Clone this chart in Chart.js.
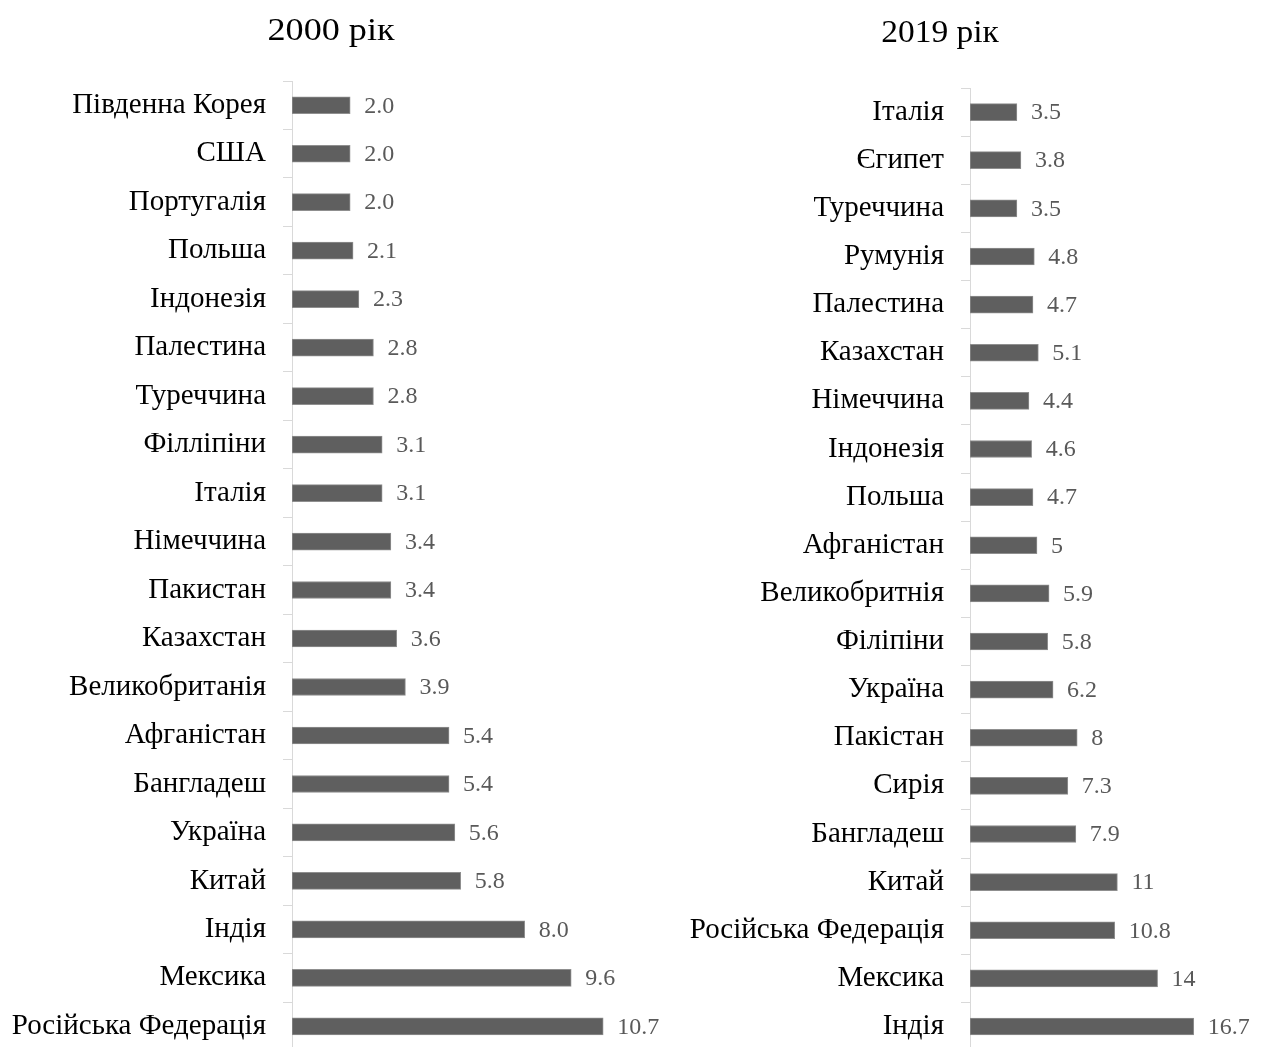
<!DOCTYPE html>
<html>
<head>
<meta charset="utf-8">
<script src="https://cdn.jsdelivr.net/npm/chart.js@4.4.1/dist/chart.umd.min.js"></script>
<style>
  html, body { margin: 0; padding: 0; background: #fff; overflow: hidden; width: 1263px; height: 1047px; }
  .title { position: absolute; font-family: "Liberation Serif", "Times New Roman", serif; color: #000; white-space: nowrap; line-height: 1; transform-origin: center center; }
  canvas { position: absolute; top: 0; }
</style>
</head>
<body>
<canvas id="c1" width="700" height="1085" style="left:0px;"></canvas>
<canvas id="c2" width="622" height="1085" style="left:641px;"></canvas>
<div class="title" id="t1" style="left:331px; top:13px; font-size:32px; transform: translateX(-50%) scaleX(1.13);">2000 рік</div>
<div class="title" id="t2" style="left:940px; top:16px; font-size:31px; transform: translateX(-50%) scaleX(1.08);">2019 рік</div>
<script>
const categories2000 = ["Південна Корея","США","Португалія","Польша","Індонезія","Палестина","Туреччина","Філліпіни","Італія","Німеччина","Пакистан","Казахстан","Великобританія","Афганістан","Бангладеш","Україна","Китай","Індія","Мексика","Російська Федерація"];
const values2000 = [2.0,2.0,2.0,2.1,2.3,2.8,2.8,3.1,3.1,3.4,3.4,3.6,3.9,5.4,5.4,5.6,5.8,8.0,9.6,10.7];

const categories2019 = ["Італія","Єгипет","Туреччина","Румунія","Палестина","Казахстан","Німеччина","Індонезія","Польша","Афганістан","Великобритнія","Філіпіни","Україна","Пакістан","Сирія","Бангладеш","Китай","Російська Федерація","Мексика","Індія"];
const values2019 = [3.5,3.8,3.5,4.8,4.7,5.1,4.4,4.6,4.7,5,5.9,5.8,6.2,8,7.3,7.9,11,10.8,14,16.7];

const FONT = '"Liberation Serif", "Times New Roman", serif';

function valueLabelPlugin(fmt, gap) {
  return {
    id: 'valueLabels',
    afterDatasetsDraw(chart) {
      const ctx = chart.ctx;
      const meta = chart.getDatasetMeta(0);
      const data = chart.data.datasets[0].data;
      ctx.save();
      ctx.font = '24px ' + FONT;
      ctx.fillStyle = '#595959';
      ctx.textAlign = 'left';
      ctx.textBaseline = 'middle';
      meta.data.forEach((bar, i) => {
        ctx.fillText(fmt(data[i]), bar.x + gap, bar.y + 1);
      });
      ctx.restore();
    }
  };
}

function makeChart(id, cats, vals, xmax, yWidth, pad, fmt, gap) {
  return new Chart(document.getElementById(id), {
    type: 'bar',
    data: {
      labels: cats,
      datasets: [{
        data: vals,
        backgroundColor: '#5f5f5f',
        borderColor: '#8f8f8f',
        borderWidth: 1,
        borderSkipped: false,
        barThickness: 17
      }]
    },
    options: {
      indexAxis: 'y',
      responsive: false,
      animation: false,
      devicePixelRatio: 1,
      layout: { padding: pad },
      plugins: { legend: { display: false }, tooltip: { enabled: false }, title: { display: false } },
      scales: {
        x: { display: false, min: 0, max: xmax },
        y: {
          afterFit(scale) { scale.width = yWidth; },
          border: { display: true, color: '#d9d9d9', width: 1 },
          grid: { display: true, drawOnChartArea: false, drawTicks: true, tickLength: 9, color: '#d9d9d9', offset: true },
          ticks: { color: '#000', font: { family: FONT, size: 29 }, padding: 17, autoSkip: false }
        }
      }
    },
    plugins: [valueLabelPlugin(fmt, gap)]
  });
}

makeChart('c1', categories2000, values2000, 12, 292, { top: 81, bottom: 9, left: 0, right: 59 }, v => v.toFixed(1), 14);
makeChart('c2', categories2019, values2019, 20, 329, { top: 88, bottom: 10, left: 0, right: 25 }, v => String(v), 14);
</script>
</body>
</html>
